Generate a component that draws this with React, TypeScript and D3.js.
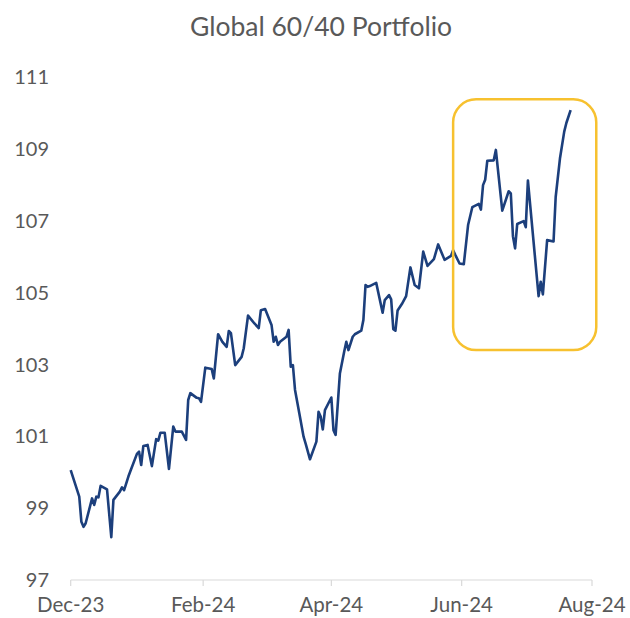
import React from "react";
import * as d3 from "d3";

const TITLE = "Global 60/40 Portfolio";

const dates: string[] = [
  "2023-12-01","2023-12-05","2023-12-06","2023-12-07","2023-12-08","2023-12-11","2023-12-12","2023-12-13","2023-12-14","2023-12-15",
  "2023-12-18","2023-12-20","2023-12-21","2023-12-24","2023-12-25","2023-12-26","2023-12-28","2023-12-29","2024-01-01","2024-01-02",
  "2024-01-03","2024-01-04","2024-01-06","2024-01-08","2024-01-10","2024-01-11","2024-01-12","2024-01-14","2024-01-16","2024-01-18",
  "2024-01-19","2024-01-22","2024-01-24","2024-01-25","2024-01-26","2024-01-29","2024-01-30","2024-01-31","2024-02-02","2024-02-05",
  "2024-02-06","2024-02-08","2024-02-10","2024-02-12","2024-02-13","2024-02-14","2024-02-16","2024-02-19","2024-02-20","2024-02-22",
  "2024-02-25","2024-02-27","2024-02-28","2024-03-01","2024-03-04","2024-03-05","2024-03-06","2024-03-07","2024-03-08","2024-03-11",
  "2024-03-12","2024-03-13","2024-03-14","2024-03-15","2024-03-17","2024-03-19","2024-03-20","2024-03-22","2024-03-25","2024-03-26",
  "2024-03-27","2024-03-28","2024-03-29","2024-04-01","2024-04-02","2024-04-03","2024-04-05","2024-04-07","2024-04-08","2024-04-09",
  "2024-04-11","2024-04-12","2024-04-15","2024-04-16","2024-04-17","2024-04-18","2024-04-19","2024-04-22","2024-04-25","2024-04-26",
  "2024-04-28","2024-04-29","2024-04-30","2024-05-01","2024-05-02","2024-05-04","2024-05-06","2024-05-08","2024-05-10","2024-05-12",
  "2024-05-14","2024-05-16","2024-05-19","2024-05-21","2024-05-24","2024-05-27","2024-05-28","2024-05-29","2024-05-31","2024-06-02",
  "2024-06-04","2024-06-06","2024-06-09","2024-06-10","2024-06-11","2024-06-12","2024-06-13","2024-06-16","2024-06-17","2024-06-20",
  "2024-06-23","2024-06-24","2024-06-25","2024-06-26","2024-06-27","2024-06-30","2024-07-01","2024-07-02","2024-07-07","2024-07-08",
  "2024-07-09","2024-07-11","2024-07-14","2024-07-15","2024-07-17","2024-07-19","2024-07-20","2024-07-22",
];

const values: number[] = [
  100.06, 99.32, 98.62, 98.48, 98.58, 99.27, 99.09, 99.32, 99.30, 99.62,
  99.52, 98.19, 99.23, 99.46, 99.58, 99.50, 99.88, 100.04, 100.51, 100.57,
  100.20, 100.73, 100.76, 100.17, 100.92, 100.88, 101.10, 101.10, 100.09, 101.27,
  101.13, 101.13, 100.90, 102.01, 102.20, 102.07, 102.06, 101.96, 102.91, 102.87,
  102.61, 103.84, 103.63, 103.49, 103.93, 103.87, 102.98, 103.21, 103.45, 104.36,
  104.14, 104.01, 104.51, 104.54, 104.10, 103.63, 103.77, 103.54, 103.63, 103.77,
  103.96, 102.94, 102.98, 102.29, 101.64, 100.99, 100.79, 100.36, 100.85, 101.68,
  101.55, 101.19, 101.73, 102.08, 101.17, 101.04, 102.75, 103.35, 103.63, 103.40,
  103.77, 103.84, 103.94, 104.24, 105.21, 105.16, 105.18, 105.27, 104.44, 104.79,
  104.93, 104.81, 103.98, 103.94, 104.50, 104.68, 104.90, 105.70, 105.21, 105.12,
  106.14, 105.74, 105.93, 106.34, 105.91, 106.02, 106.18, 106.05, 105.81, 105.79,
  106.88, 107.38, 107.47, 107.31, 107.99, 108.14, 108.67, 108.68, 108.97, 107.28,
  107.82, 107.76, 106.57, 106.23, 106.91, 106.99, 106.82, 108.12, 104.90, 105.30,
  104.95, 106.46, 106.42, 107.66, 108.73, 109.48, 109.72, 110.08,
];

const yTicks: number[] = [97, 99, 101, 103, 105, 107, 109, 111];
const xTickDates: string[] = ["2023-12-01", "2024-02-01", "2024-04-01", "2024-06-01", "2024-08-01"];
const xTickLabels: string[] = ["Dec-23", "Feb-24", "Apr-24", "Jun-24", "Aug-24"];

// highlight box extent (in data terms)
const boxDates: string[] = ["2024-05-28", "2024-08-03"];
const boxValues: number[] = [103.4, 110.38];

const W = 630;
const H = 618;
const FONT = "Lato, 'Noto Sans', sans-serif";
const TEXT = "#595959";

export default function App() {
  const parse = d3.timeParse("%Y-%m-%d");
  const x = d3
    .scaleTime()
    .domain([parse(xTickDates[0])!, parse(xTickDates[xTickDates.length - 1])!])
    .range([70.7, 592]);
  const y = d3.scaleLinear().domain([97, 111]).range([580, 77]);

  const pts = dates.map((d, i) => ({ date: parse(d)!, v: values[i] }));
  const line = d3
    .line<{ date: Date; v: number }>()
    .x((d) => x(d.date))
    .y((d) => y(d.v));

  const bx0 = x(parse(boxDates[0])!);
  const bx1 = x(parse(boxDates[1])!);
  const by0 = y(boxValues[1]);
  const by1 = y(boxValues[0]);

  return (
    <svg
      width={W}
      height={H}
      style={{ position: "absolute", left: 0, top: 0, display: "block", background: "#fff" }}
    >
      <rect width={W} height={H} fill="#fff" />
      <text x={321} y={36} textAnchor="middle" fontFamily={FONT} fontSize={26.5} fill={TEXT}>
        {TITLE}
      </text>
      {yTicks.map((t) => (
        <text
          key={t}
          x={49}
          y={y(t)}
          dy="0.36em"
          textAnchor="end"
          fontFamily={FONT}
          fontSize={20}
          fill={TEXT}
        >
          {t}
        </text>
      ))}
      <line x1={x.range()[0]} x2={x.range()[1]} y1={y(97)} y2={y(97)} stroke="#d9d9d9" strokeWidth={1.2} />
      {xTickDates.map((d, i) => {
        const xx = x(parse(d)!);
        return (
          <g key={d}>
            <line x1={xx} x2={xx} y1={y(97)} y2={y(97) + 6} stroke="#d9d9d9" strokeWidth={1.2} />
            <text x={xx} y={612} textAnchor="middle" fontFamily={FONT} fontSize={20.5} fill={TEXT}>
              {xTickLabels[i]}
            </text>
          </g>
        );
      })}
      <path d={line(pts) || ""} fill="none" stroke="#1c3f7c" strokeWidth={2.6} strokeLinejoin="round" />
      <rect
        x={bx0}
        y={by0}
        width={bx1 - bx0}
        height={by1 - by0}
        rx={23}
        ry={23}
        fill="none"
        stroke="#f7c12f"
        strokeWidth={2.5}
      />
    </svg>
  );
}
